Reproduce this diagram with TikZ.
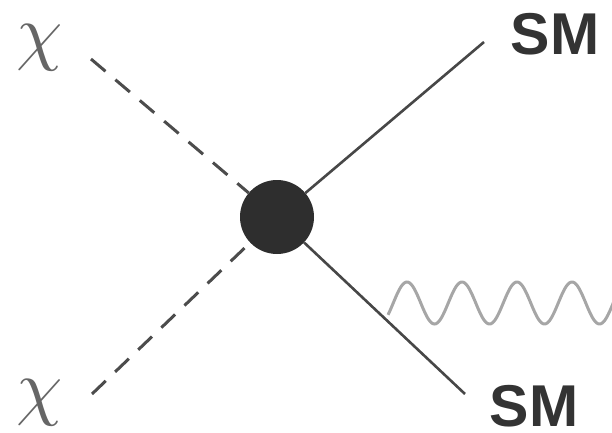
\documentclass[tikz,border=0pt]{standalone}
\usepackage{fontspec}
\newfontfamily\smfont{Liberation Sans}
\begin{document}
\begin{tikzpicture}[x=1pt,y=1pt,
  blobstyle/.style={circle,fill=black!82,inner sep=0pt,minimum size=74pt},
  chilabel/.style={text=black!60,scale=7.4,inner sep=0pt},
  smlabel/.style={text=black!80,font=\smfont\bfseries\fontsize{59}{59}\selectfont,inner sep=0pt},
  scalarline/.style={draw=black!70,line width=3pt,dash pattern=on 19pt off 13pt},
  fermionline/.style={draw=black!72,line width=2.6pt},
  photonline/.style={draw=black!35,line width=3pt}]
\useasboundingbox (0,0) rectangle (612,432);
\node[blobstyle] (blob) at (277,215) {};
\node[chilabel] (chiA) at (40,384) {$\chi$};
\node[chilabel] (chiB) at (40,29) {$\chi$};
\node[smlabel] (smA) at (555,398) {SM};
\node[smlabel] (smB) at (534,26) {SM};
\coordinate (dA) at (91,373);
\coordinate (dB) at (92,38);
\coordinate (fA) at (484,390);
\coordinate (fB) at (465,38);
\draw[scalarline] (dA) -- (blob);
\draw[scalarline] (dB) -- (blob);
\draw[fermionline] (blob) -- (fA);
\draw[fermionline] (blob) -- (fB);
\draw[photonline] plot[domain=388:614,samples=240,smooth] (\x,{129+21*cos(6.5455*(\x-407))});
\end{tikzpicture}
\end{document}
